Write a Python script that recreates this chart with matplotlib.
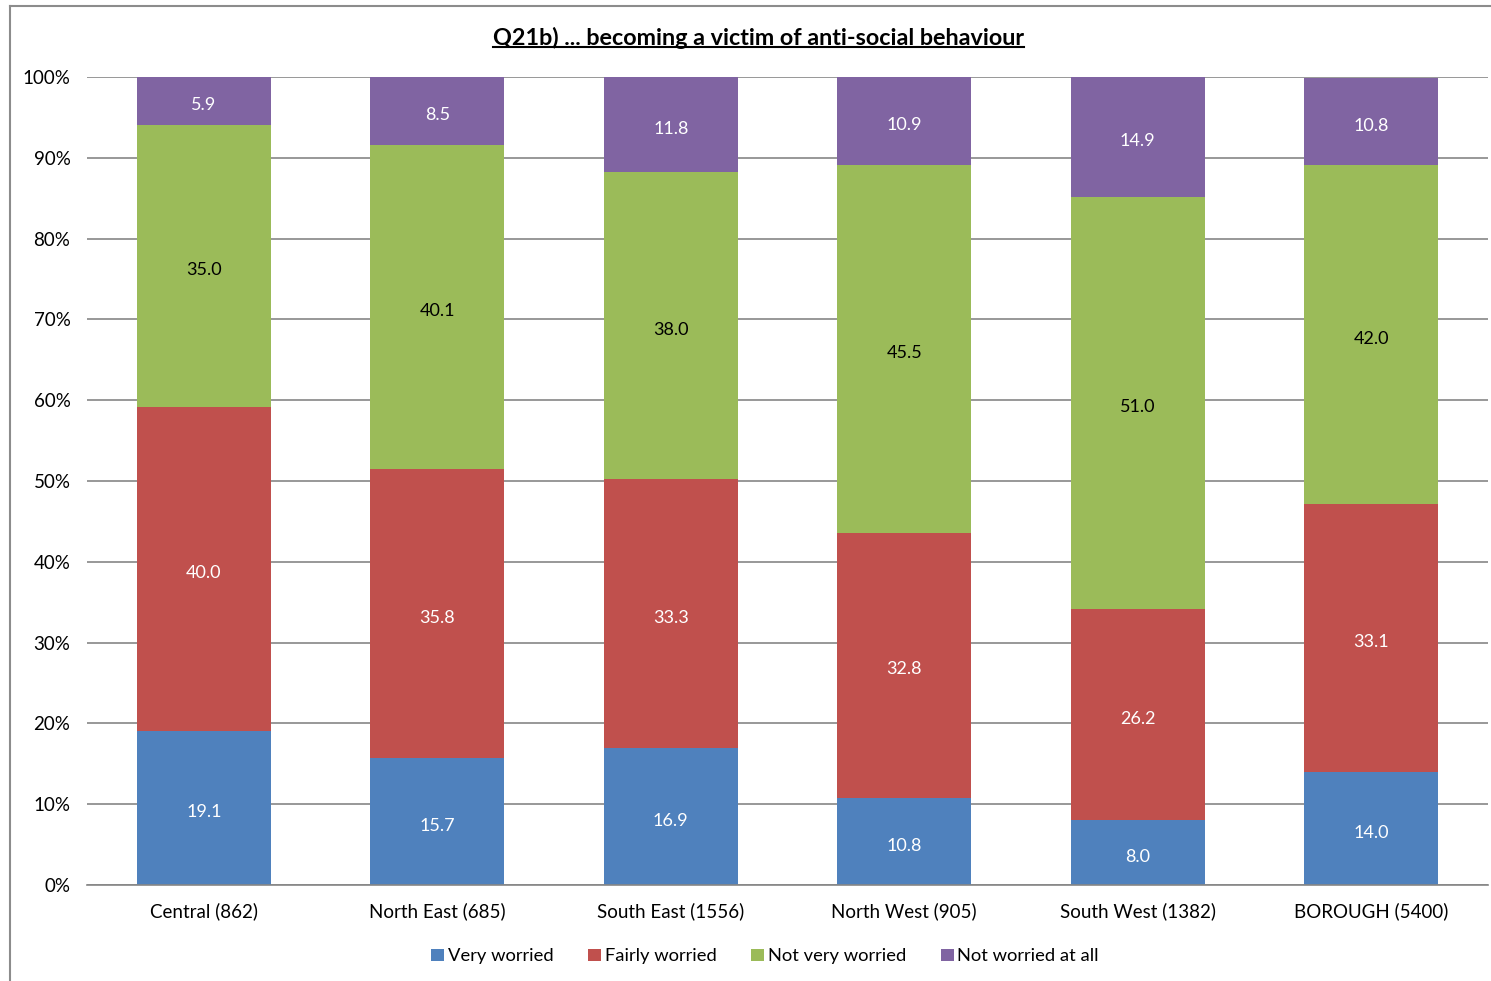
import matplotlib.pyplot as plt
import numpy as np
from matplotlib.lines import Line2D

categories = ['Central (862)', 'North East (685)', 'South East (1556)',
              'North West (905)', 'South West (1382)', 'BOROUGH (5400)']
very_worried = [19.1, 15.7, 16.9, 10.8, 8.0, 14.0]
fairly_worried = [40.0, 35.8, 33.3, 32.8, 26.2, 33.1]
not_very_worried = [35.0, 40.1, 38.0, 45.5, 51.0, 42.0]
not_worried_at_all = [5.9, 8.5, 11.8, 10.9, 14.9, 10.8]

series = [
    ('Very worried', very_worried, '#4F81BD', 'white'),
    ('Fairly worried', fairly_worried, '#C0504D', 'white'),
    ('Not very worried', not_very_worried, '#9BBB59', 'black'),
    ('Not worried at all', not_worried_at_all, '#8064A2', 'white'),
]

plt.rcParams['font.family'] = ['Lato', 'DejaVu Sans']

fig = plt.figure(figsize=(14.91, 9.81), dpi=100)
ax = fig.add_axes([0.0584, 0.0979, 0.9396, 0.8236])

x = np.arange(len(categories))
bottom = np.zeros(len(categories))
for name, vals, color, tcol in series:
    vals = np.array(vals)
    ax.bar(x, vals, 0.574, bottom=bottom, color=color, label=name, zorder=2)
    for xi, b, v in zip(x, bottom, vals):
        ax.annotate(f'{v:.1f}', (xi, b + v / 2), xytext=(0, -2),
                    textcoords='offset points', ha='center', va='center_baseline',
                    color=tcol, fontsize=13, zorder=3)
    bottom = bottom + vals

ax.set_xlim(-0.5, len(categories) - 0.5)
ax.set_ylim(0, 100)
ax.set_yticks(np.arange(0, 101, 10))
ax.set_yticklabels([f'{t}%' for t in range(0, 101, 10)])
ax.set_xticks(x)
ax.set_xticklabels(categories)
ax.tick_params(axis='both', length=0, labelsize=13.5, colors='black')
ax.tick_params(axis='y', pad=12)
ax.tick_params(axis='x', pad=12.5)
ax.yaxis.grid(True, color='#868686', linewidth=1.2, zorder=0)
ax.set_axisbelow(True)
for s in ['left', 'right', 'top']:
    ax.spines[s].set_visible(False)
ax.spines['bottom'].set_color('#868686')
ax.spines['bottom'].set_linewidth(1.2)

leg = fig.legend(loc='center', bbox_to_anchor=(0.513, 0.025), ncol=4,
                 frameon=False, fontsize=13.2, handlelength=0.7,
                 handleheight=0.7, handletextpad=0.2, columnspacing=1.9)

title = fig.text(0.509, 0.961, 'Q21b) ... becoming a victim of anti-social behaviour',
                 ha='center', va='center', fontsize=16.8, fontweight='bold')

# underline the title
fig.canvas.draw()
bb = title.get_window_extent().transformed(fig.transFigure.inverted())
fig.add_artist(Line2D([bb.x0, bb.x1], [bb.y0 + 0.002, bb.y0 + 0.002],
                      color='black', linewidth=1.5, transform=fig.transFigure))

# chart frame (left and top edges visible)
fig.add_artist(Line2D([0.0067, 0.0067], [0.0, 0.994], color='#8c8c8c',
                      linewidth=1.5, transform=fig.transFigure))
fig.add_artist(Line2D([0.0067, 1.0], [0.994, 0.994], color='#8c8c8c',
                      linewidth=1.5, transform=fig.transFigure))

fig.savefig('out.png', dpi=100)
